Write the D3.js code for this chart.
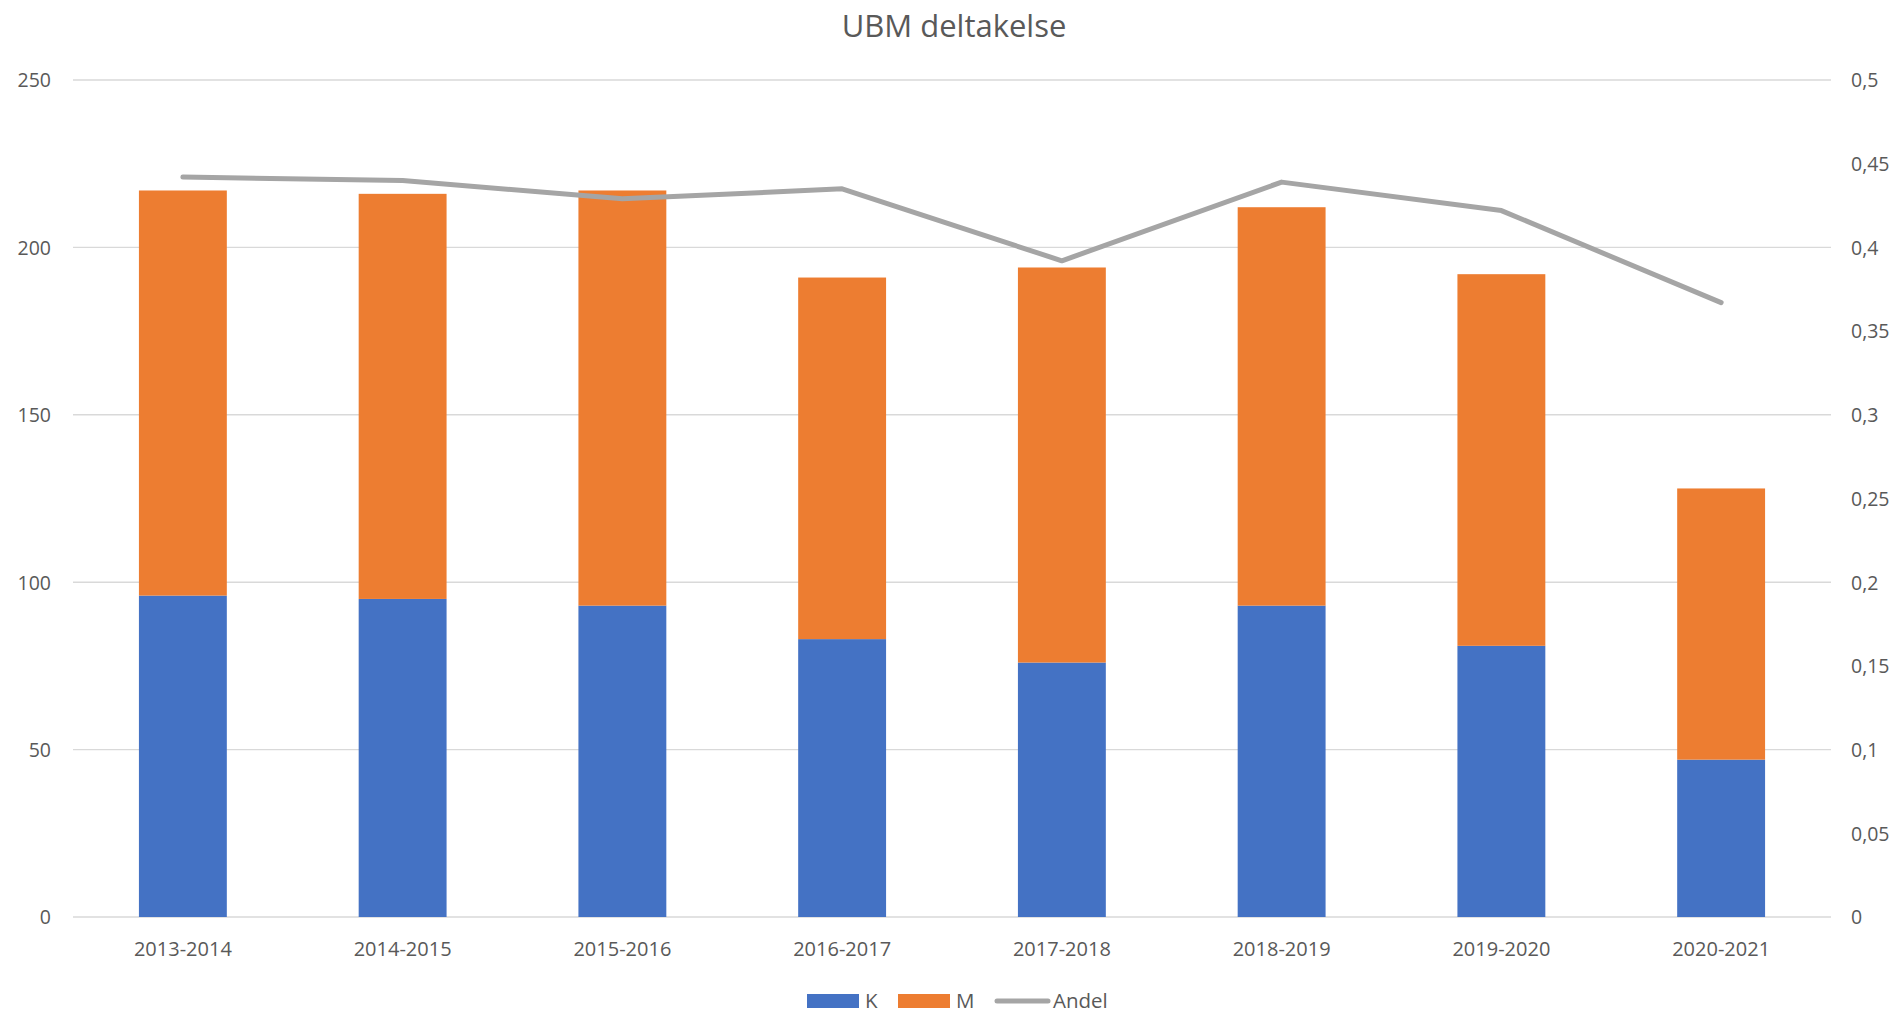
<!DOCTYPE html>
<html>
<head>
<meta charset="utf-8">
<script src="https://cdn.jsdelivr.net/npm/d3@7"></script>
<style>
	body { margin: 0; background: #fff; }
	text { font-family: "Open Sans", sans-serif; fill: #595959; }
</style>
</head>
<body>
<svg id="chart" width="1901" height="1014"></svg>
<script>
var years = ["2013-2014", "2014-2015", "2015-2016", "2016-2017", "2017-2018", "2018-2019", "2019-2020", "2020-2021"];
var kValues = [96, 95, 93, 83, 76, 93, 81, 47];
var mValues = [121, 121, 124, 108, 118, 119, 111, 81];
var andel = [0.442, 0.440, 0.429, 0.435, 0.392, 0.439, 0.422, 0.367];
var leftTicks = [0, 50, 100, 150, 200, 250];
var rightTicks = [0, 0.05, 0.1, 0.15, 0.2, 0.25, 0.3, 0.35, 0.4, 0.45, 0.5];

var colors = { K: "#4472C4", M: "#ED7D31", Andel: "#A5A5A5" };

var svg = d3.select("#chart"),
	plotLeft = 73,
	plotRight = 1831,
	plotTop = 80,
	plotBottom = 917;

var x = d3.scaleBand().domain(years).range([plotLeft, plotRight]).paddingInner(0.6).paddingOuter(0.3);
var y = d3.scaleLinear().domain([0, 250]).range([plotBottom, plotTop]);
var y2 = d3.scaleLinear().domain([0, 0.5]).range([plotBottom, plotTop]);

// title
svg.append("text")
	.attr("x", 954)
	.attr("y", 37)
	.attr("text-anchor", "middle")
	.style("font-size", "31px")
	.text("UBM deltakelse");

// gridlines
svg.append("g")
	.selectAll("line")
	.data(leftTicks)
	.enter().append("line")
	.attr("x1", plotLeft)
	.attr("x2", plotRight)
	.attr("y1", function (d) { return y(d); })
	.attr("y2", function (d) { return y(d); })
	.attr("stroke", "#D9D9D9")
	.attr("stroke-width", 1.4);

// left axis
var yAxis = svg.append("g")
	.attr("transform", "translate(" + 51 + ",0)")
	.call(d3.axisLeft(y).tickValues(leftTicks).tickSize(0).tickPadding(0));
yAxis.select(".domain").remove();
yAxis.selectAll("text").style("font-size", "19.5px").attr("dy", "0.35em");

// right axis
var fmt = function (d) { return String(+d.toFixed(2)).replace(".", ","); };
var y2Axis = svg.append("g")
	.attr("transform", "translate(" + 1851 + ",0)")
	.call(d3.axisRight(y2).tickValues(rightTicks).tickFormat(fmt).tickSize(0).tickPadding(0));
y2Axis.select(".domain").remove();
y2Axis.selectAll("text").style("font-size", "19.5px").attr("dy", "0.35em");

// x axis labels
var xAxis = svg.append("g")
	.attr("transform", "translate(0," + plotBottom + ")")
	.call(d3.axisBottom(x).tickSize(0).tickPadding(25));
xAxis.select(".domain").remove();
xAxis.selectAll("text").style("font-size", "20px");

// stacked bars
var rows = years.map(function (yr, i) { return { year: yr, K: kValues[i], M: mValues[i] }; });
var stack = d3.stack().keys(["K", "M"])(rows);

svg.append("g")
	.selectAll("g")
	.data(stack)
	.enter().append("g")
	.attr("fill", function (d) { return colors[d.key]; })
	.selectAll("rect")
	.data(function (d) { return d; })
	.enter().append("rect")
	.attr("x", function (d) { return x(d.data.year); })
	.attr("width", x.bandwidth())
	.attr("y", function (d) { return y(d[1]); })
	.attr("height", function (d) { return y(d[0]) - y(d[1]); });

// Andel line
var line = d3.line()
	.x(function (d, i) { return x(years[i]) + x.bandwidth() / 2; })
	.y(function (d) { return y2(d); });

svg.append("path")
	.datum(andel)
	.attr("d", line)
	.attr("fill", "none")
	.attr("stroke", colors.Andel)
	.attr("stroke-width", 5)
	.attr("stroke-linejoin", "round")
	.attr("stroke-linecap", "round");

// legend
var legend = svg.append("g");
legend.append("rect").attr("x", 807).attr("y", 994).attr("width", 52).attr("height", 14).attr("fill", colors.K);
legend.append("text").attr("x", 865).attr("y", 1008).style("font-size", "20.5px").text("K");
legend.append("rect").attr("x", 898).attr("y", 994).attr("width", 52).attr("height", 14).attr("fill", colors.M);
legend.append("text").attr("x", 956).attr("y", 1008).style("font-size", "20.5px").text("M");
legend.append("line").attr("x1", 997).attr("x2", 1048).attr("y1", 1001).attr("y2", 1001)
	.attr("stroke", colors.Andel).attr("stroke-width", 5).attr("stroke-linecap", "round");
legend.append("text").attr("x", 1053).attr("y", 1008).style("font-size", "20.5px").text("Andel");
</script>
</body>
</html>
